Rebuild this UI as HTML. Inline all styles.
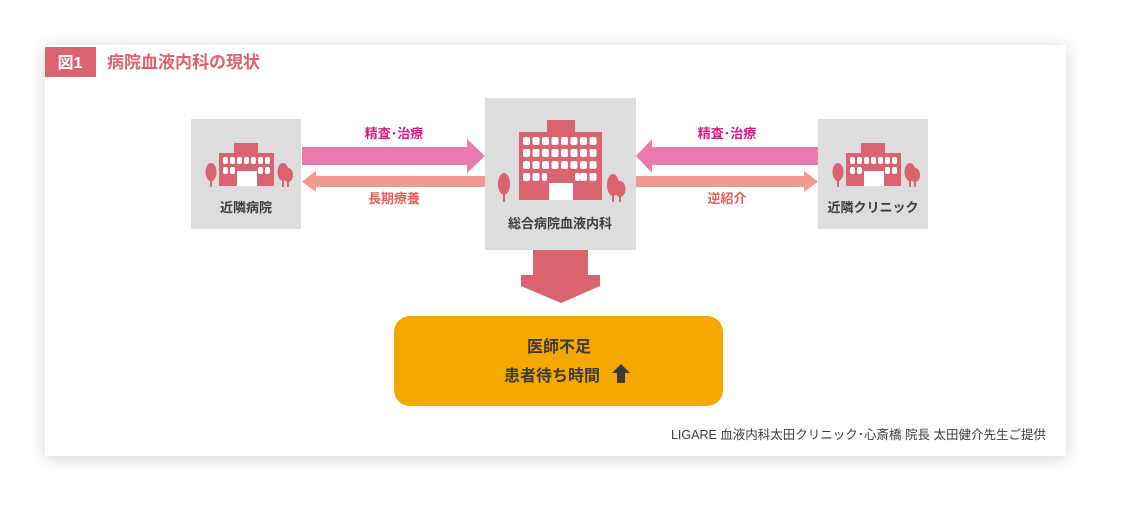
<!DOCTYPE html>
<html><head><meta charset="utf-8"><style>
html,body{margin:0;padding:0;background:#fff;}
body{width:1124px;height:514px;position:relative;overflow:hidden;font-family:"Liberation Sans","Noto Sans CJK JP",sans-serif;}
.card{position:absolute;left:45px;top:45px;width:1021px;height:411px;background:#fff;box-shadow:0 2px 14px rgba(0,0,0,0.18);}
svg{position:absolute;left:0;top:0;}
svg text{font-family:"Liberation Sans","Noto Sans CJK JP",sans-serif;font-weight:bold;}
</style></head><body>
<div class="card"></div>
<svg width="1124" height="514" viewBox="0 0 1124 514">
<defs>
<g id="small">
  <rect x="43" y="24" width="24" height="12" fill="#d9636f"/>
  <rect x="28" y="34" width="55" height="33" fill="#d9636f"/>
  <g fill="#fff">
    <rect x="32" y="38" width="5" height="7" rx="2"/><rect x="39" y="38" width="5" height="7" rx="2"/><rect x="46" y="38" width="5" height="7" rx="2"/><rect x="53" y="38" width="5" height="7" rx="2"/><rect x="60" y="38" width="5" height="7" rx="2"/><rect x="67" y="38" width="5" height="7" rx="2"/><rect x="74" y="38" width="5" height="7" rx="2"/>
    <rect x="32" y="48" width="5" height="7" rx="2"/><rect x="39" y="48" width="5" height="7" rx="2"/><rect x="67" y="48" width="5" height="7" rx="2"/><rect x="74" y="48" width="5" height="7" rx="2"/>
    <rect x="46" y="52" width="20" height="15"/>
  </g>
  <ellipse cx="20" cy="53" rx="5.5" ry="9" fill="#d9636f"/><rect x="19" y="58" width="2" height="10" fill="#d9636f"/>
  <ellipse cx="92" cy="53" rx="5.5" ry="9" fill="#d9636f"/><ellipse cx="97" cy="56" rx="5" ry="7" fill="#d9636f"/>
  <rect x="91" y="58" width="2" height="10" fill="#d9636f"/><rect x="96" y="60" width="2" height="8" fill="#d9636f"/>
</g>
</defs>
<rect x="45" y="47" width="51" height="30" fill="#d9636f"/>
<text x="70" y="68" fill="#fff" font-size="16" text-anchor="middle">図1</text>
<text x="107" y="68" fill="#d9636f" font-size="17">病院血液内科の現状</text>

<rect x="191" y="119" width="110" height="110" fill="#dcdddc"/>
<rect x="485" y="98" width="151" height="152" fill="#dcdddc"/>
<rect x="818" y="119" width="110" height="110" fill="#dcdddc"/>

<use href="#small" x="191" y="119"/>
<use href="#small" x="818" y="119"/>

<rect x="547" y="120" width="28" height="14" fill="#d9636f"/>
<rect x="519" y="132" width="83" height="68" fill="#d9636f"/>
<g fill="#fff">
<g id="row">
<rect x="523" y="137" width="7" height="8" rx="2"/><rect x="532.5" y="137" width="7" height="8" rx="2"/><rect x="542" y="137" width="7" height="8" rx="2"/><rect x="551.5" y="137" width="7" height="8" rx="2"/><rect x="561" y="137" width="7" height="8" rx="2"/><rect x="570.5" y="137" width="7" height="8" rx="2"/><rect x="580" y="137" width="7" height="8" rx="2"/><rect x="589.5" y="137" width="7" height="8" rx="2"/>
</g>
<use href="#row" y="12"/><use href="#row" y="24"/>
<rect x="523" y="173" width="7" height="8" rx="2"/><rect x="532.5" y="173" width="7" height="8" rx="2"/><rect x="542" y="173" width="5" height="8" rx="2"/><rect x="575" y="173" width="5" height="8" rx="2"/><rect x="580" y="173" width="7" height="8" rx="2"/><rect x="589.5" y="173" width="7" height="8" rx="2"/>
<rect x="549" y="183" width="24" height="17"/>
</g>
<ellipse cx="504" cy="184" rx="6" ry="11" fill="#d9636f"/><rect x="503" y="190" width="2" height="12" fill="#d9636f"/>
<ellipse cx="613" cy="185" rx="6" ry="11" fill="#d9636f"/><ellipse cx="620" cy="189" rx="5.5" ry="8" fill="#d9636f"/>
<rect x="612" y="190" width="2" height="12" fill="#d9636f"/><rect x="619" y="193" width="2" height="9" fill="#d9636f"/>

<polygon points="302,147 467,147 467,139 485,156 467,173 467,165 302,165" fill="#ea7aac"/>
<polygon points="485,176 316,176 316,171 302,181.5 316,192 316,187 485,187" fill="#f09a91"/>
<polygon points="818,147 652,147 652,139 636,156 652,173 652,165 818,165" fill="#ea7aac"/>
<polygon points="636,176 804,176 804,171 818,181.5 804,192 804,187 636,187" fill="#f09a91"/>

<text x="394" y="138" fill="#e0187f" font-size="13" text-anchor="middle">精査･治療</text>
<text x="394" y="203" fill="#e8605a" font-size="13" text-anchor="middle">長期療養</text>
<text x="727" y="138" fill="#e0187f" font-size="13" text-anchor="middle">精査･治療</text>
<text x="727" y="203" fill="#e8605a" font-size="13" text-anchor="middle">逆紹介</text>

<text x="246" y="212" fill="#3e3a39" font-size="13" text-anchor="middle">近隣病院</text>
<text x="560" y="228" fill="#3e3a39" font-size="13" text-anchor="middle">総合病院血液内科</text>
<text x="873" y="212" fill="#3e3a39" font-size="13" text-anchor="middle">近隣クリニック</text>

<polygon points="533,250 588,250 588,275 600,275 600,286 561,303 521,286 521,275 533,275" fill="#d9636f"/>

<rect x="394" y="316" width="329" height="90" rx="16" fill="#f4a800"/>
<text x="559" y="352" fill="#3e3a39" font-size="16" text-anchor="middle">医師不足</text>
<text x="552" y="381" fill="#3e3a39" font-size="16" text-anchor="middle">患者待ち時間</text>
<polygon points="621,364 630,373 625,373 625,383 617,383 617,373 612,373" fill="#3e3a39"/>

<text x="1046" y="439" fill="#3e3a39" font-size="12.5" style="font-weight:normal" text-anchor="end">LIGARE 血液内科太田クリニック･心斎橋 院長 太田健介先生ご提供</text>
</svg>
</body></html>
